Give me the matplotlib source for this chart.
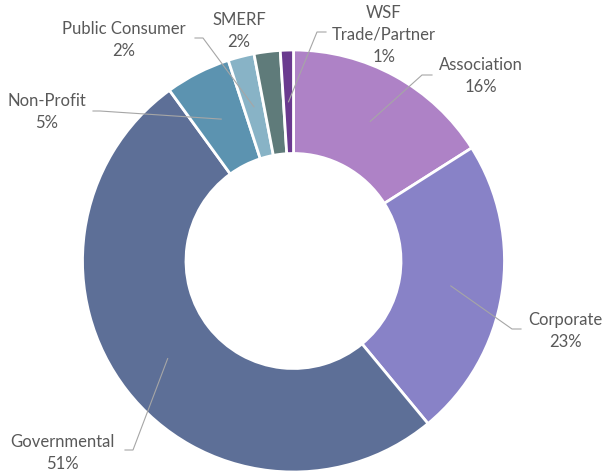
import numpy as np
from matplotlib import pyplot as plt

W, H = 603, 477

# Slices, clockwise from 12 o'clock.
labels = ["Association", "Corporate", "Governmental", "Non-Profit",
	"Public Consumer", "SMERF", "WSF\nTrade/Partner"]
values = [16, 23, 51, 5, 2, 2, 1]
colors = ["#AE82C6", "#8882C7", "#5D6F97", "#5C93B0", "#88B3C6", "#5F7B7A", "#6A3A8F"]

# Label block centres and leader elbows, in picture pixels (y down).
label_pos = [(481, 76), (565, 331), (62, 453), (47, 112), (124, 40), (239, 31), (384, 35)]
elbows = [((422, 76), (432, 76)), ((512, 330), (521, 330)), ((133, 451), (125, 451)),
	((100, 112), (93, 112)), ((203, 39), (195, 39)), None, ((317, 33), (326, 33))]

cx, cy, R = 293.5, 262, 211
ring = 103.5

plt.rcParams['font.family'] = ['Lato', 'DejaVu Sans']

fig = plt.figure(figsize=(W / 100, H / 100), dpi=100)
ax = fig.add_axes([0, 0, 1, 1])

wedges, _ = ax.pie(values, colors=colors, startangle=90, counterclock=False,
	radius=R, center=(cx, H - cy),
	wedgeprops=dict(width=ring, edgecolor='white', linewidth=2))

ax.set_xlim(0, W)
ax.set_ylim(0, H)
ax.set_aspect('equal')
ax.axis('off')

r_mid = R - ring / 2
for i, w in enumerate(wedges):
	mid = np.deg2rad((w.theta1 + w.theta2) / 2)
	ax_x = cx + r_mid * np.cos(mid)
	ax_y = (H - cy) + r_mid * np.sin(mid)
	if elbows[i] is not None:
		(ex, ey), (tx, ty) = elbows[i]
		ax.plot([ax_x, ex, tx], [ax_y, H - ey, H - ty], color='#A6A6A6', lw=0.8,
			solid_joinstyle='miter')
	lx, ly = label_pos[i]
	ax.text(lx, H - ly, "%s\n%d%%" % (labels[i], values[i]), ha='center', va='center',
		fontsize=12, color='#595959', linespacing=1.43)

fig.savefig("out.png", dpi=100, facecolor='white')
